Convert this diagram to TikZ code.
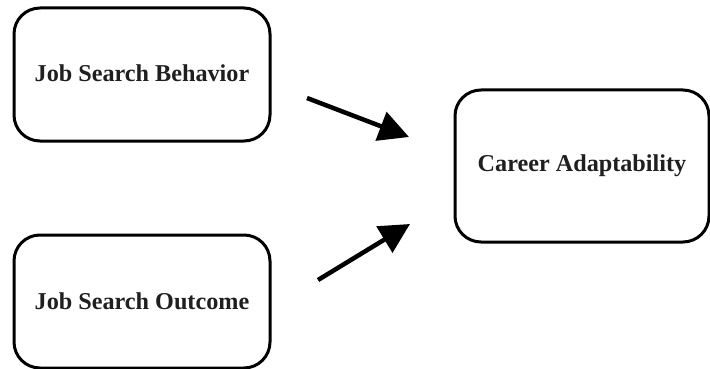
\documentclass[tikz,border=0pt]{standalone}
\usepackage{fontspec}
\setmainfont{Liberation Serif}
\usetikzlibrary{arrows.meta}
\begin{document}
\begin{tikzpicture}[x=1pt,y=-1pt,
  box/.style={draw=black, line width=3pt, rounded corners=26pt, fill=white,
    font=\fontsize{24.2}{28}\selectfont\bfseries, text=black!88, inner sep=0pt},
  arr/.style={line width=4.5pt, -{Triangle[length=30pt,width=30pt]}}]
\useasboundingbox (0,0) rectangle (710,369);
\node[box, minimum width=256pt, minimum height=133pt] (jsb) at (142,74.5) {\raisebox{2pt}{Job Search Behavior}};
\node[box, minimum width=256pt, minimum height=133pt] (jso) at (142,301.5) {Job Search Outcome};
\node[box, minimum width=254pt, minimum height=152pt] (ca) at (582,166) {\raisebox{2pt}{Career Adaptability}};
\coordinate (a1s) at (307,98);
\coordinate (a1e) at (409,137);
\coordinate (a2s) at (318,280);
\coordinate (a2e) at (410,224);
\draw[arr] (a1s) -- (a1e);
\draw[arr] (a2s) -- (a2e);
\end{tikzpicture}
\end{document}
